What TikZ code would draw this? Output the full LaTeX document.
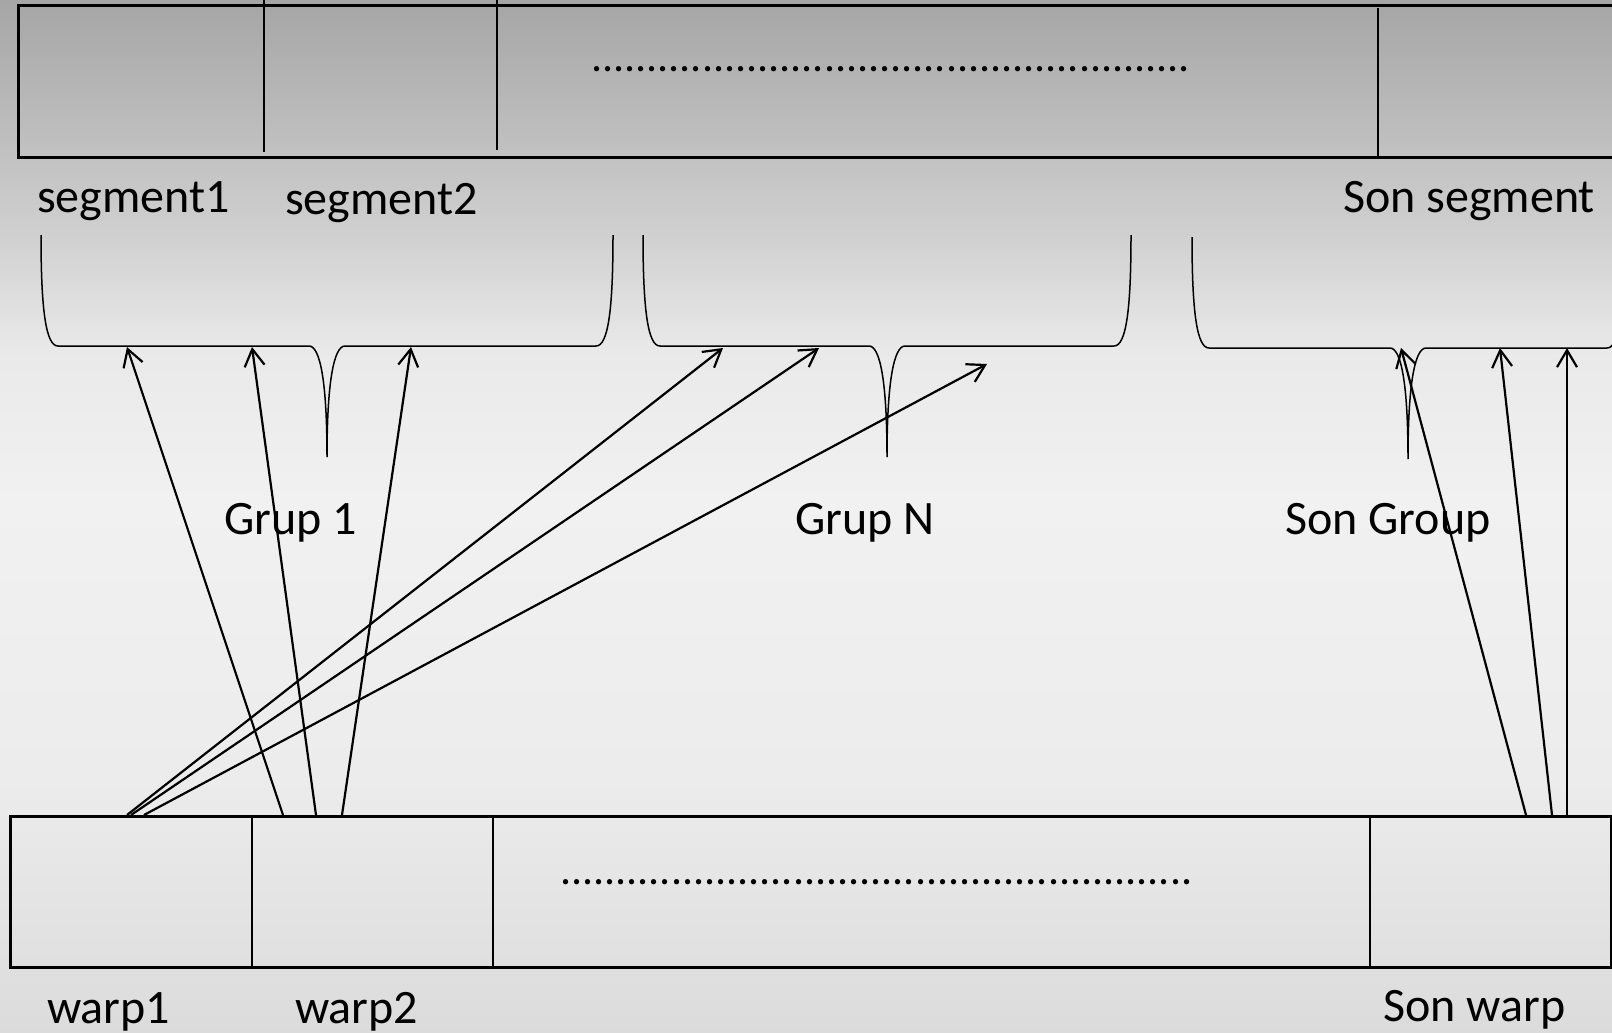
\documentclass[tikz,border=0pt]{standalone}
\usepackage{fontspec}
\setmainfont{Carlito}
\usetikzlibrary{arrows.meta}
\definecolor{bgA}{gray}{0.65}
\definecolor{bgB}{gray}{0.82}
\definecolor{bgC}{gray}{0.915}
\definecolor{bgD}{gray}{0.945}
\definecolor{bgE}{gray}{0.925}
\definecolor{bgF}{gray}{0.86}
\begin{document}
\begin{tikzpicture}[x=1pt,y=-1pt,
  lbl/.style={anchor=base west, inner sep=0pt, font=\fontsize{48}{56}\selectfont},
  dotrow/.style={anchor=base west, inner sep=0pt, font=\fontsize{44}{54}\selectfont},
  cellframe/.style={draw=black, line width=3pt},
  divider/.style={draw=black, line width=1.6pt},
  bracepath/.style={draw=black, line width=1.5pt},
  link/.style={draw=black, line width=2.2pt, -{Straight Barb[length=17pt,width=20pt]}},
  pics/grpbrace/.style={code={
    \draw[bracepath] (-#1,-111) .. controls (-#1,-35) and (-#1+5,0) .. (-#1+17,0)
      -- (-18,0) .. controls (-7,0) and (0,35) .. (0,111)
      .. controls (0,35) and (7,0) .. (18,0)
      -- (#1-17,0) .. controls (#1-5,0) and (#1,-35) .. (#1,-111);
  }}]
\useasboundingbox (0,0) rectangle (1612,1033);
\clip (0,0) rectangle (1612,1033);

% background gradient
\shade[top color=bgA, bottom color=bgB] (0,0) rectangle (1612,241);
\shade[top color=bgB, bottom color=bgC] (0,240) rectangle (1612,351);
\shade[top color=bgC, bottom color=bgD] (0,350) rectangle (1612,501);
\shade[top color=bgD, bottom color=bgE] (0,500) rectangle (1612,781);
\shade[top color=bgE, bottom color=bgF] (0,780) rectangle (1612,1033);

% segment bar
\draw[cellframe] (18.5,6) rectangle (1650,157);
\draw[divider] (264,0) -- (264,152);
\draw[divider] (497,0) -- (497,150);
\draw[divider] (1378,8) -- (1378,159);
\node[dotrow] (segdots) at (591,72) {......................................................};

\node[lbl] (seg1) at (37,212) {segment1};
\node[lbl] (seg2) at (285,214) {segment2};
\node[lbl] (segN) at (1343,212) {Son segment};

% group braces
\pic (g1) at (327,346) {grpbrace=286};
\pic (gN) at (887,346) {grpbrace=244};
\pic (gS) at (1408,348) {grpbrace=216};

\node[lbl] (grp1) at (224,534) {Grup 1};
\node[lbl] (grpN) at (795,534) {Grup N};
\node[lbl] (grpS) at (1285,534) {Son Group};

% warp bar
\draw[cellframe] (10,816) rectangle (1611,967);
\draw[divider] (252,816) -- (252,967);
\draw[divider] (493,816) -- (493,967);
\draw[divider] (1370,816) -- (1370,967);
\node[dotrow] (warpdots) at (560,884) {.........................................................};

\node[lbl] (warp1) at (47,1023) {warp1};
\node[lbl] (warp2) at (295,1023) {warp2};
\node[lbl] (warpS) at (1383,1021) {Son warp};

% connector end points
\coordinate (w1a) at (127,815);
\coordinate (w1b) at (131,815);
\coordinate (w1c) at (144,815);
\coordinate (w2a) at (283,815);
\coordinate (w2b) at (316,815);
\coordinate (w2c) at (342,815);
\coordinate (wSa) at (1526,815);
\coordinate (wSb) at (1552,815);
\coordinate (wSc) at (1567,815);

\coordinate (t1a) at (127,347);
\coordinate (t1b) at (252,347);
\coordinate (t1c) at (411,347);
\coordinate (tNa) at (723,348);
\coordinate (tNb) at (819,348);
\coordinate (tNc) at (987,364);
\coordinate (tSa) at (1401,348);
\coordinate (tSb) at (1500,348);
\coordinate (tSc) at (1567,348);

% connectors
\draw[link] (w2a) -- (t1a);
\draw[link] (w2b) -- (t1b);
\draw[link] (w2c) -- (t1c);
\draw[link] (w1a) -- (tNa);
\draw[link] (w1b) -- (tNb);
\draw[link] (w1c) -- (tNc);
\draw[link] (wSa) -- (tSa);
\draw[link] (wSb) -- (tSb);
\draw[link] (wSc) -- (tSc);
\end{tikzpicture}
\end{document}
